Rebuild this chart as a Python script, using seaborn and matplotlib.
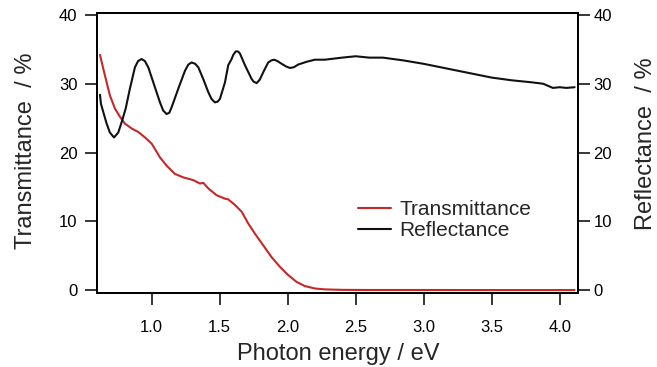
import numpy as np
import pandas as pd
import matplotlib
matplotlib.use("Agg")
import matplotlib.pyplot as plt
import seaborn as sns
from matplotlib.lines import Line2D

# ---- data ----
energy_R = [0.620, 0.627, 0.644, 0.669, 0.693, 0.723, 0.754, 0.779, 0.809, 0.840,
            0.877, 0.900, 0.926, 0.950, 0.975, 1.012, 1.061, 1.085, 1.110, 1.130,
            1.147, 1.196, 1.245, 1.270, 1.294, 1.320, 1.343, 1.379, 1.416, 1.440,
            1.465, 1.485, 1.502, 1.539, 1.563, 1.588, 1.600, 1.618, 1.635, 1.649,
            1.686, 1.735, 1.750, 1.772, 1.795, 1.821, 1.857, 1.880, 1.901, 1.925,
            1.956, 1.990, 2.017, 2.045, 2.078, 2.140, 2.200, 2.274, 2.400, 2.500,
            2.600, 2.700, 2.850, 3.000, 3.150, 3.250, 3.350, 3.500, 3.650, 3.800,
            3.880, 3.950, 4.000, 4.050, 4.110]
reflectance = [28.4, 27.1, 25.9, 24.2, 22.9, 22.2, 22.9, 24.4, 26.4, 29.3,
               32.4, 33.3, 33.6, 33.3, 32.4, 30.2, 27.3, 26.1, 25.6, 25.8,
               26.6, 29.3, 31.9, 32.8, 33.1, 32.9, 32.4, 30.7, 28.8, 27.8,
               27.3, 27.4, 27.8, 30.2, 32.7, 33.6, 34.2, 34.7, 34.7, 34.4,
               32.7, 30.7, 30.3, 30.1, 30.6, 31.7, 33.1, 33.4, 33.5, 33.3,
               32.9, 32.5, 32.3, 32.4, 32.8, 33.2, 33.5, 33.5, 33.8, 34.0,
               33.8, 33.8, 33.4, 32.9, 32.3, 31.9, 31.5, 30.9, 30.5, 30.2,
               30.0, 29.4, 29.5, 29.4, 29.5]

energy_T = [0.620, 0.644, 0.669, 0.693, 0.730, 0.767, 0.804, 0.853, 0.901, 0.951,
            1.000, 1.037, 1.061, 1.110, 1.171, 1.232, 1.306, 1.355, 1.380, 1.416,
            1.478, 1.539, 1.563, 1.612, 1.662, 1.710, 1.760, 1.821, 1.882, 1.943,
            2.004, 2.066, 2.127, 2.200, 2.274, 2.400, 2.600, 3.000, 3.500, 4.000,
            4.110]
transmittance = [34.2, 32.2, 30.2, 28.3, 26.4, 25.2, 24.2, 23.5, 23.0, 22.2,
                 21.3, 20.1, 19.3, 18.1, 16.9, 16.4, 16.0, 15.5, 15.6, 14.8,
                 13.8, 13.3, 13.2, 12.4, 11.4, 9.7, 8.2, 6.5, 4.8, 3.4,
                 2.2, 1.2, 0.6, 0.25, 0.12, 0.05, 0.03, 0.03, 0.02, 0.02,
                 0.02]

x_ticks = [1.0, 1.5, 2.0, 2.5, 3.0, 3.5, 4.0]
y_ticks = [0, 10, 20, 30, 40]

series_names = ["Transmittance", "Reflectance"]
series_colors = ["#c62828", "#111111"]

# ---- style ----
sns.set_theme(style="ticks")
plt.rcParams["font.family"] = ["Liberation Sans", "DejaVu Sans"]

fig = plt.figure(figsize=(6.57, 3.67), dpi=100)
W, H = 657, 367
ax = fig.add_axes([97 / W, 1 - 293.3 / H, (578 - 97) / W, (293.3 - 12.7) / H])
ax2 = ax.twinx()

dfT = pd.DataFrame({"energy": energy_T, "value": transmittance})
dfR = pd.DataFrame({"energy": energy_R, "value": reflectance})

sns.lineplot(data=dfT, x="energy", y="value", ax=ax, color=series_colors[0],
             lw=1.5, sort=False, estimator=None)
sns.lineplot(data=dfR, x="energy", y="value", ax=ax2, color=series_colors[1],
             lw=1.5, sort=False, estimator=None)

for a in (ax, ax2):
    a.set_xlim(0.598, 4.135)
    a.set_ylim(-0.45, 40.33)
    a.set_yticks(y_ticks)
    a.set_xlabel("")
    a.set_ylabel("")
    for s in a.spines.values():
        s.set_visible(True)
        s.set_linewidth(1.3)
        s.set_color("black")

ax.set_xticks(x_ticks)
ax.set_xticklabels([f"{v:.1f}" for v in x_ticks])
ax.tick_params(axis="both", direction="out", length=8.6, width=1.1,
               labelsize=12, colors="black")
ax.tick_params(axis="y", pad=5.5)
ax.tick_params(axis="x", pad=10.5)
ax2.tick_params(axis="y", direction="out", length=8.6, width=1.1,
                labelsize=12, pad=2.5, colors="black")

fig.text(31.7 / W, 1 - 150.5 / H, "Transmittance  / %", rotation=90,
         rotation_mode="anchor", ha="center", va="baseline", fontsize=17)
fig.text(651.5 / W, 1 - 143.5 / H, "Reflectance  / %", rotation=90,
         rotation_mode="anchor", ha="center", va="baseline", fontsize=17)
fig.text(338.5 / W, 1 - 360 / H, "Photon energy / eV", ha="center",
         va="baseline", fontsize=17)

handles = [Line2D([], [], color=c, lw=1.5) for c in series_colors]
fig.legend(handles, series_names, loc="upper left",
           bbox_to_anchor=(358 / W, 1 - 200 / H), frameon=False,
           fontsize=15, handlelength=1.6, handletextpad=0.4,
           labelspacing=0.1, borderpad=0, borderaxespad=0)

fig.savefig("out.png", dpi=100)
